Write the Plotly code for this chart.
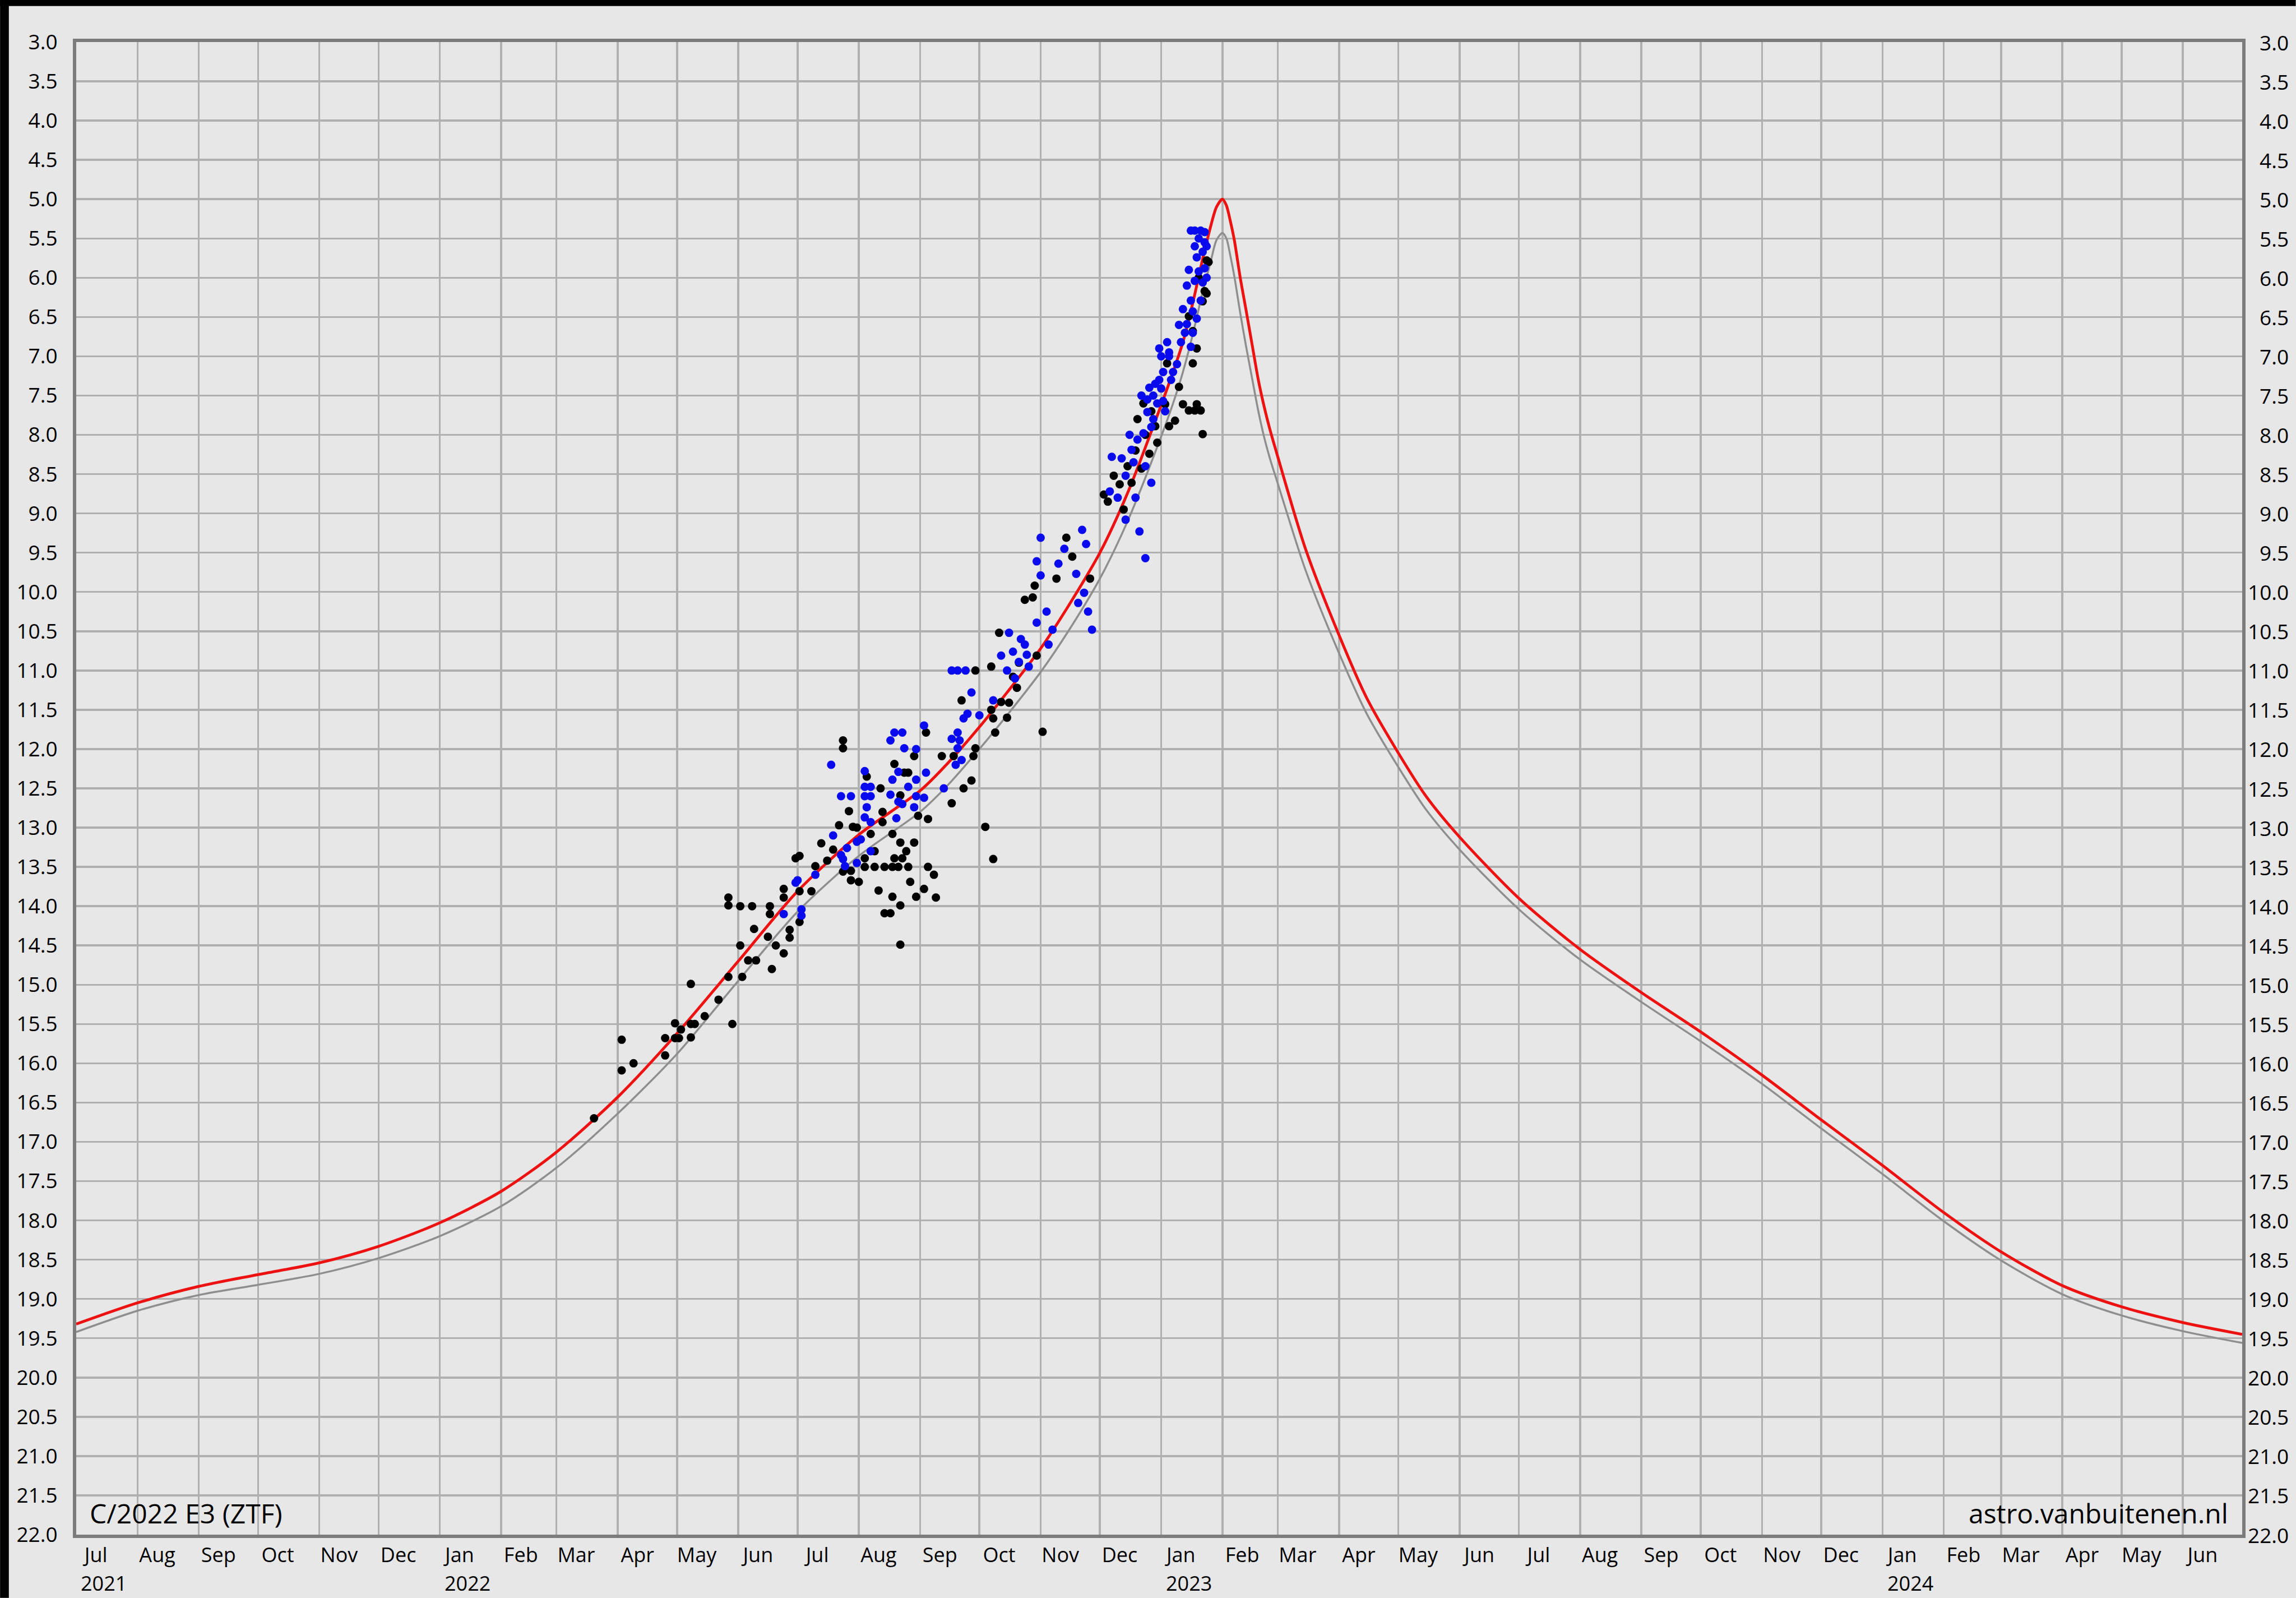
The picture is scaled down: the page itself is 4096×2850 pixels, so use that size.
import plotly.graph_objects as go
import pandas as pd

# ---------------- data ----------------
curve_dates = ["2021-07-01", "2021-08-01", "2021-09-01", "2021-10-01", "2021-11-01", "2021-12-01",
               "2022-01-01", "2022-02-01", "2022-03-01", "2022-04-01", "2022-05-01", "2022-06-01",
               "2022-07-01", "2022-08-01", "2022-09-01", "2022-09-15", "2022-10-01", "2022-10-15",
               "2022-11-01", "2022-11-15", "2022-12-01", "2022-12-15", "2023-01-01", "2023-01-07",
               "2023-01-12", "2023-01-17", "2023-01-22", "2023-01-26", "2023-01-29", "2023-02-01",
               "2023-02-03", "2023-02-05", "2023-02-07", "2023-02-10", "2023-02-13", "2023-02-16",
               "2023-02-19", "2023-02-22", "2023-02-25", "2023-03-01", "2023-03-15", "2023-04-01",
               "2023-04-15", "2023-05-01", "2023-05-15", "2023-06-01", "2023-07-01", "2023-08-01",
               "2023-09-01", "2023-10-01", "2023-11-01", "2023-12-01", "2024-01-01", "2024-02-01",
               "2024-03-01", "2024-04-01", "2024-05-01", "2024-06-01", "2024-07-01"]
red_mag = [19.32, 19.05, 18.84, 18.69, 18.54, 18.33,
           18.03, 17.63, 17.13, 16.43, 15.62, 14.70,
           13.81, 13.09, 12.53, 12.18, 11.72, 11.28,
           10.72, 10.18, 9.50, 8.74, 7.62, 7.20,
           6.82, 6.32, 5.76, 5.35, 5.10, 5.00,
           5.08, 5.28, 5.52, 6.00, 6.42, 6.85,
           7.28, 7.63, 7.93, 8.28, 9.45, 10.55,
           11.35, 12.05, 12.60, 13.12, 13.90, 14.55,
           15.10, 15.60, 16.15, 16.72, 17.30, 17.90,
           18.40, 18.83, 19.10, 19.30, 19.45]
gray_mag = [19.42, 19.15, 18.95, 18.82, 18.68, 18.48,
            18.20, 17.82, 17.33, 16.64, 15.88, 14.95,
            14.07, 13.36, 12.80, 12.46, 12.00, 11.57,
            11.02, 10.50, 9.83, 9.10, 8.02, 7.60,
            7.20, 6.72, 6.18, 5.80, 5.52, 5.43,
            5.50, 5.72, 5.98, 6.45, 6.88, 7.28,
            7.68, 8.02, 8.30, 8.62, 9.72, 10.78,
            11.55, 12.23, 12.77, 13.28, 14.04, 14.68,
            15.22, 15.72, 16.26, 16.83, 17.41, 18.01,
            18.51, 18.94, 19.21, 19.41, 19.56]

black_dates = [
    "2022-03-20", "2022-04-03", "2022-04-03", "2022-04-09", "2022-04-25", "2022-04-25", "2022-04-30", "2022-04-30",
    "2022-05-02", "2022-05-03", "2022-05-08", "2022-05-08", "2022-05-10", "2022-05-08", "2022-05-15", "2022-05-22",
    "2022-05-27", "2022-05-27", "2022-05-27", "2022-05-29",
    "2022-06-02", "2022-06-02", "2022-06-03", "2022-06-06", "2022-06-08", "2022-06-09", "2022-06-10", "2022-06-16",
    "2022-06-17", "2022-06-17", "2022-06-18", "2022-06-20", "2022-06-24", "2022-06-24", "2022-06-24", "2022-06-27",
    "2022-06-27", "2022-06-30",
    "2022-07-02", "2022-07-02", "2022-07-02", "2022-07-08", "2022-07-10", "2022-07-13", "2022-07-16", "2022-07-19",
    "2022-07-22", "2022-07-24", "2022-07-24", "2022-07-24", "2022-07-27", "2022-07-28", "2022-07-28", "2022-07-29",
    "2022-07-31",
    "2022-08-29", "2022-08-19", "2022-08-26", "2022-08-24", "2022-08-05", "2022-08-12", "2022-08-22", "2022-08-31",
    "2022-08-13", "2022-08-13", "2022-08-18", "2022-08-07", "2022-08-22", "2022-08-29", "2022-08-25", "2022-08-09",
    "2022-08-04", "2022-08-19", "2022-08-23", "2022-08-04", "2022-08-09", "2022-08-14", "2022-08-18", "2022-08-21",
    "2022-08-26", "2022-08-01", "2022-08-27", "2022-08-11", "2022-08-18", "2022-08-30", "2022-08-22", "2022-08-14",
    "2022-08-17", "2022-08-22",
    "2022-09-04", "2022-09-12", "2022-09-18", "2022-09-17", "2022-09-23", "2022-09-27", "2022-09-28", "2022-09-29",
    "2022-09-22", "2022-10-07", "2022-10-08", "2022-10-09", "2022-09-05", "2022-10-04", "2022-10-08", "2022-09-05",
    "2022-09-08", "2022-09-09", "2022-09-03", "2022-09-29",
    "2022-10-07", "2022-10-11", "2022-10-18", "2022-10-20", "2022-10-16", "2022-10-15", "2022-10-24", "2022-10-28",
    "2022-10-30", "2022-11-02", "2022-10-29", "2022-11-09", "2022-11-14", "2022-11-17", "2022-11-26",
    "2022-10-12", "2022-10-21",
    "2022-12-03", "2022-12-05", "2022-12-08", "2022-12-11", "2022-12-13", "2022-12-17", "2022-12-22", "2022-12-26",
    "2022-12-30", "2022-12-20", "2022-12-23", "2022-12-24", "2022-12-27", "2022-12-19", "2022-12-15",
    "2023-01-24", "2023-01-23", "2023-01-15", "2023-01-17", "2023-01-04", "2023-01-17", "2023-01-10", "2023-01-03",
    "2023-01-12", "2023-01-19", "2023-01-15", "2023-01-18", "2023-01-21", "2023-01-08", "2022-12-29", "2023-01-22",
    "2023-01-05", "2023-01-20", "2023-01-22", "2023-01-19", "2023-01-24", "2023-01-25"]
black_mag = [
    16.70, 15.70, 16.09, 16.00, 15.68, 15.90, 15.49, 15.68,
    15.68, 15.57, 15.67, 15.50, 15.50, 14.99, 15.40, 15.19,
    13.89, 13.99, 14.90, 15.50,
    14.00, 14.50, 14.90, 14.69, 14.00, 14.29, 14.69, 14.39,
    14.00, 14.10, 14.80, 14.50, 13.78, 13.89, 14.60, 14.30,
    14.40, 13.39,
    13.36, 13.81, 14.20, 13.81, 13.49, 13.20, 13.42, 13.28,
    12.97, 11.89, 11.99, 13.56, 12.79, 13.55, 13.67, 12.99,
    13.00,
    12.09, 12.19, 12.30, 12.30, 12.35, 12.50, 12.59, 12.85,
    12.80, 12.93, 13.08, 13.08, 13.19, 13.19, 13.30, 13.30,
    13.39, 13.39, 13.39, 13.50, 13.50, 13.50, 13.50, 13.50,
    13.50, 13.69, 13.69, 13.80, 13.88, 13.88, 13.99, 14.09,
    14.09, 14.49,
    11.79, 12.09, 12.09, 12.69, 12.50, 12.40, 12.09, 11.99,
    11.38, 11.50, 11.61, 11.79, 12.89, 12.99, 13.40, 13.50,
    13.60, 13.89, 13.78, 11.00,
    10.95, 10.52, 11.08, 11.22, 11.41, 11.60, 10.10, 10.07,
    10.81, 11.78, 9.92, 9.83, 9.31, 9.55, 9.83,
    11.40, 10.90,
    8.76, 8.85, 8.52, 8.63, 8.95, 8.61, 8.43, 8.24,
    8.10, 7.80, 7.60, 8.00, 7.70, 8.20, 8.40,
    5.78, 6.17, 6.49, 6.68, 7.09, 7.09, 7.39, 7.61,
    7.61, 7.61, 7.69, 7.69, 7.69, 7.82, 7.89, 7.99,
    7.89, 6.00, 6.30, 6.90, 6.20, 5.80]

blue_dates = [
    "2022-06-24", "2022-06-30",
    "2022-07-01", "2022-07-03", "2022-07-03", "2022-07-10", "2022-07-18", "2022-07-19", "2022-07-23", "2022-07-23",
    "2022-07-24", "2022-07-25", "2022-07-26", "2022-07-28", "2022-07-31", "2022-07-31",
    "2022-08-19", "2022-08-23", "2022-08-17", "2022-08-24", "2022-08-30", "2022-08-04", "2022-08-21", "2022-08-18",
    "2022-08-30", "2022-08-26", "2022-08-04", "2022-08-07", "2022-08-04", "2022-08-07", "2022-08-17", "2022-08-21",
    "2022-08-30", "2022-08-05", "2022-08-23", "2022-08-29", "2022-08-04", "2022-08-20", "2022-08-07", "2022-08-02",
    "2022-08-07",
    "2022-09-03", "2022-09-27", "2022-10-01", "2022-10-08", "2022-09-23", "2022-09-25", "2022-09-20", "2022-09-17",
    "2022-09-21", "2022-09-20", "2022-09-22", "2022-09-19", "2022-09-04", "2022-09-13", "2022-09-03",
    "2022-09-17", "2022-09-20", "2022-09-24",
    "2022-10-16", "2022-10-18", "2022-10-21", "2022-10-24", "2022-10-26", "2022-10-15", "2022-10-12", "2022-10-30",
    "2022-11-01", "2022-10-30", "2022-11-01", "2022-11-04", "2022-11-07", "2022-11-05", "2022-11-10", "2022-11-13",
    "2022-11-19", "2022-11-22", "2022-11-24", "2022-11-23", "2022-11-25", "2022-11-20", "2022-11-27",
    "2022-10-19", "2022-10-22", "2022-10-25",
    "2022-12-06", "2022-12-07", "2022-12-14", "2022-12-14", "2022-12-17", "2022-12-18", "2022-12-19", "2022-12-20",
    "2022-12-21", "2022-12-24", "2022-12-27",
    "2022-12-22", "2022-12-26", "2022-12-16", "2022-12-12", "2022-12-10", "2022-12-24", "2022-12-31",
    "2023-01-16", "2023-01-18", "2023-01-21", "2023-01-23", "2023-01-23", "2023-01-22", "2023-01-19", "2023-01-23",
    "2023-01-20", "2023-01-18", "2023-01-22", "2023-01-16", "2023-01-21", "2023-01-17", "2023-01-19", "2023-01-14",
    "2023-01-13", "2023-01-17", "2023-01-11", "2023-01-04", "2023-01-16", "2023-01-01", "2023-01-05", "2022-12-31",
    "2023-01-01", "2022-12-25", "2022-12-28", "2023-01-02", "2022-12-25", "2022-12-28", "2022-12-23", "2023-01-07",
    "2023-01-10", "2023-01-12", "2023-01-14", "2023-01-15", "2023-01-18", "2023-01-20", "2023-01-24", "2023-01-24",
    "2023-01-09", "2023-01-06", "2023-01-03", "2022-12-30", "2022-12-27", "2022-12-29", "2023-01-02", "2023-01-05"]
blue_mag = [
    14.10, 13.70,
    13.67, 14.04, 14.12, 13.60, 12.20, 13.10, 12.60, 13.35,
    13.40, 13.49, 13.26, 12.60, 13.18, 13.45,
    11.79, 11.79, 11.89, 11.99, 12.00, 12.28, 12.29, 12.39,
    12.39, 12.48, 12.48, 12.48, 12.60, 12.60, 12.58, 12.67,
    12.60, 12.74, 12.70, 12.74, 12.87, 12.88, 12.93, 13.15,
    13.30,
    11.70, 11.28, 11.57, 11.38, 11.61, 11.55, 11.79, 11.87,
    11.89, 11.99, 12.14, 12.20, 12.30, 12.50, 12.62,
    11.00, 11.00, 11.00,
    10.52, 10.76, 10.89, 10.67, 10.95, 11.00, 10.81, 10.39,
    9.31, 9.61, 9.79, 10.25, 10.48, 10.67, 9.64, 9.45,
    9.77, 9.21, 9.39, 10.01, 10.25, 10.14, 10.48,
    11.10, 10.60, 10.80,
    8.72, 8.28, 9.08, 8.52, 8.19, 8.35, 8.80, 8.06,
    9.23, 9.57, 8.61,
    7.50, 7.40, 8.00, 8.30, 8.80, 8.40, 6.90,
    5.40, 5.40, 5.40, 5.42, 5.55, 5.67, 5.74, 5.88,
    5.92, 6.04, 6.06, 6.29, 6.29, 6.43, 6.52, 6.59,
    6.70, 6.70, 6.82, 6.82, 6.88, 7.00, 7.00, 7.30,
    7.41, 7.55, 7.50, 7.57, 7.71, 7.80, 7.98, 7.20,
    6.60, 6.40, 6.10, 5.90, 5.60, 5.50, 5.60, 6.00,
    7.10, 7.30, 7.70, 7.60, 7.90, 7.35, 7.20, 6.95]

month_labels = ["Jul", "Aug", "Sep", "Oct", "Nov", "Dec",
                "Jan", "Feb", "Mar", "Apr", "May", "Jun", "Jul", "Aug", "Sep", "Oct", "Nov", "Dec",
                "Jan", "Feb", "Mar", "Apr", "May", "Jun", "Jul", "Aug", "Sep", "Oct", "Nov", "Dec",
                "Jan", "Feb", "Mar", "Apr", "May", "Jun"]
year_labels = ["2021", "2022", "2023", "2024"]
year_label_dates = ["2021-07-15", "2022-01-15", "2023-01-15", "2024-01-15"]
mag_ticks = [3.0 + 0.5 * i for i in range(39)]
title_text = "C/2022 E3 (ZTF)"
credit_text = "astro.vanbuitenen.nl"

# ---------------- geometry (reference px * scale) ----------------
W, H = 4096, 2850
S = W / 7325.0
L, R, T, B = 243 * S, 7154 * S, 135 * S, 4895 * S


def px(xp):
    return (xp - L) / (R - L)


def py(yp):
    return (B - yp) / (B - T)


month_starts = pd.date_range("2021-07-01", "2024-06-01", freq="MS")
label_pos = [d + pd.Timedelta(days=10) for d in month_starts]
grid_pos = list(pd.date_range("2021-08-01", "2024-06-01", freq="MS"))

FONT = "Open Sans, Noto Sans, DejaVu Sans, sans-serif"
BG = "#e7e7e7"
GRID = "#b0b0b0"
FRAME = "#7c7c7c"
TICK_SIZE = 37
XTICK_SIZE = 36

fig = go.Figure()
fig.add_trace(go.Scatter(x=curve_dates, y=gray_mag, mode="lines",
                         line=dict(color="#8e8e8e", width=3.5, shape="spline", smoothing=0.8),
                         showlegend=False, hoverinfo="skip"))
fig.add_trace(go.Scatter(x=curve_dates, y=red_mag, mode="lines",
                         line=dict(color="#ee1111", width=5, shape="spline", smoothing=0.8),
                         showlegend=False, hoverinfo="skip"))
fig.add_trace(go.Scatter(x=black_dates, y=black_mag, mode="markers",
                         marker=dict(color="#000000", size=15, line=dict(width=0)),
                         showlegend=False))
fig.add_trace(go.Scatter(x=blue_dates, y=blue_mag, mode="markers",
                         marker=dict(color="#0a0aee", size=15, line=dict(width=0)),
                         showlegend=False))

tick_font = dict(family=FONT, size=TICK_SIZE, color="#000000")
xtick_font = dict(family=FONT, size=XTICK_SIZE, color="#000000")

fig.update_layout(
    width=W, height=H,
    margin=dict(l=L, r=W - R, t=T, b=H - B, autoexpand=False),
    paper_bgcolor=BG, plot_bgcolor=BG,
    font=dict(family=FONT, color="#000000"),
    hovermode=False,
    xaxis=dict(
        type="date", range=["2021-07-01", "2024-07-01"],
        tickmode="array", tickvals=label_pos, ticktext=month_labels,
        tickfont=xtick_font, ticks="", ticklen=0,
        showgrid=False, zeroline=False,
        minor=dict(tickmode="array", tickvals=grid_pos, showgrid=True,
                   gridcolor=GRID, gridwidth=3.5, ticks=""),
        showline=True, linecolor=FRAME, linewidth=6, mirror=True,
    ),
    yaxis=dict(
        range=[22, 3], tickmode="array", tickvals=mag_ticks,
        ticktext=[f"{v:.1f}" for v in mag_ticks],
        tickfont=tick_font, ticks="outside", ticklen=20, tickcolor="rgba(0,0,0,0)",
        showgrid=True, gridcolor=GRID, gridwidth=3.5, zeroline=False,
        showline=True, linecolor=FRAME, linewidth=6, mirror=True,
    ),
)

annotations = [
    dict(text=title_text, xref="paper", yref="paper", x=px(283 * S), y=py(4827 * S),
         xanchor="left", yanchor="middle", showarrow=False,
         font=dict(family=FONT, size=48, color="#000000")),
    dict(text=credit_text, xref="paper", yref="paper", x=px(7113 * S), y=py(4827 * S),
         xanchor="right", yanchor="middle", showarrow=False,
         font=dict(family=FONT, size=48, color="#000000")),
]
# right-hand magnitude labels (right-aligned, as in the reference)
for v in mag_ticks:
    annotations.append(dict(text=f"{v:.1f}", xref="paper", yref="y", x=px(7305 * S), y=v,
                            xanchor="right", yanchor="middle", showarrow=False, borderpad=0,
                            font=tick_font))
for lab, d in zip(year_labels, year_label_dates):
    annotations.append(dict(text=lab, xref="x", yref="paper", x=d, y=py(5050 * S),
                            xanchor="center", yanchor="middle", showarrow=False, borderpad=0,
                            font=xtick_font))
fig.update_layout(annotations=annotations)

# black screenshot border bands (top and left)
fig.update_layout(shapes=[
    dict(type="rect", xref="paper", yref="paper", x0=px(0), x1=px(W), y0=py(20 * S), y1=py(0),
         fillcolor="#000000", line=dict(width=0), layer="above"),
    dict(type="rect", xref="paper", yref="paper", x0=px(0), x1=px(28 * S), y0=py(H), y1=py(0),
         fillcolor="#000000", line=dict(width=0), layer="above"),
])

fig.write_html("out.html",
               config={"displayModeBar": False, "staticPlot": True},
               post_script="document.body.style.margin='0';document.body.style.overflow='hidden';")
